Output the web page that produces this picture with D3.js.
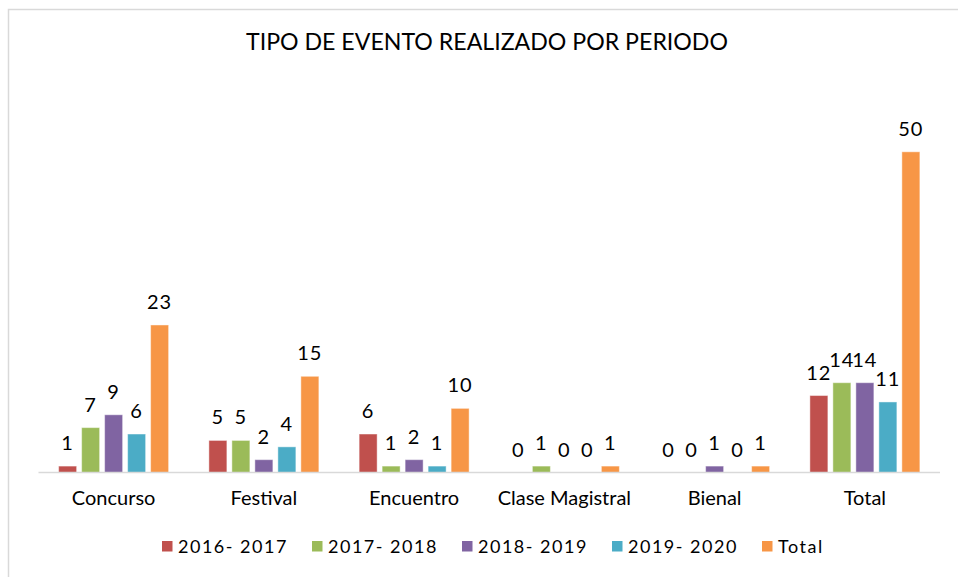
<!DOCTYPE html>
<html><head><meta charset="utf-8">
<script src="https://cdn.jsdelivr.net/npm/d3@7/dist/d3.min.js"></script>
<style>html,body{margin:0;padding:0;background:#fff;overflow:hidden}</style>
</head><body>
<svg id="c" width="958" height="577"></svg>
<script>
const title = "TIPO DE EVENTO REALIZADO POR PERIODO";
const categories = ["Concurso","Festival","Encuentro","Clase Magistral","Bienal","Total"];
const seriesNames = ["2016- 2017","2017- 2018","2018- 2019","2019- 2020","Total"];
const s2016 = [1,5,6,0,0,12];
const s2017 = [7,5,1,1,0,14];
const s2018 = [9,2,2,0,1,14];
const s2019 = [6,4,1,0,0,11];
const sTotal = [23,15,10,1,1,50];
const colors = ["#C0504D","#9BBB59","#8064A2","#4BACC6","#F79646"];

const seriesVals = [s2016,s2017,s2018,s2019,sTotal];
const svg = d3.select("#c");
const font = "Lato, 'Open Sans', sans-serif";

svg.append("rect").attr("x",8.5).attr("y",9.5).attr("width",1200).attr("height",1200)
  .attr("fill","none").attr("stroke","#d9d9d9").attr("stroke-width",1.5);

svg.append("text").attr("x",246).attr("y",50).attr("textLength",482).attr("lengthAdjust","spacingAndGlyphs")
  .style("font-family",font).style("font-size","24px").attr("fill","#000").text(title);

const x = d3.scaleBand().domain(categories).range([38.5,940]).paddingInner(0.268).paddingOuter(0.134);
const xs = d3.scaleBand().domain(seriesNames).range([0,x.bandwidth()]).paddingInner(5/23).paddingOuter(0);
const y = d3.scaleLinear().domain([0,50]).range([472.5,151.8]);

const g = svg.append("g");
seriesNames.forEach((s,si)=>{
  const vals = seriesVals[si];
  categories.forEach((c,ci)=>{
    const v = vals[ci];
    const bx = x(c)+xs(s);
    if (v>0) {
      g.append("rect").attr("x",bx).attr("y",y(v)).attr("width",xs.bandwidth()).attr("height",y(0)-y(v))
        .attr("fill",colors[si]).attr("stroke","rgba(255,255,255,0.45)").attr("stroke-width",1);
    }
    g.append("text").attr("x",bx+xs.bandwidth()/2).attr("y",y(v)-16).attr("text-anchor","middle")
      .style("font-family",font).style("font-size","20px").style("letter-spacing","1px").attr("fill","#000").text(v);
  });
});

// axis
const ax = svg.append("g").attr("transform","translate(0,472.5)").call(d3.axisBottom(x).tickSize(0).tickPadding(18));
ax.select(".domain").attr("stroke","#d9d9d9").attr("stroke-width",1.5).attr("d","M38.5,0H940");
ax.selectAll("text").style("font-family",font).style("font-size","20px").attr("fill","#000");

// legend
const lg = svg.append("g");
seriesNames.forEach((s,i)=>{
  const lx = 162 + i*150;
  lg.append("rect").attr("x",lx).attr("y",541).attr("width",10.5).attr("height",10.5).attr("fill",colors[i]);
  lg.append("text").attr("x",lx+16).attr("y",552.5).style("font-family",font).style("font-size","18px")
    .style("letter-spacing","1.5px").attr("fill","#000").text(s);
});
</script>
</body></html>
